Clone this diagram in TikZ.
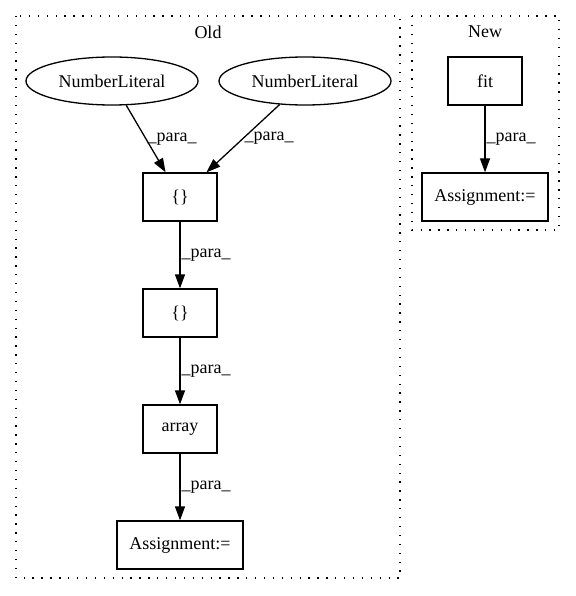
\documentclass[tikz,border=0pt]{standalone}
\usepackage{fontspec}
\setmainfont{Liberation Serif}
\usetikzlibrary{shapes.geometric,arrows.meta}

\tikzset{
  every node/.style={font=\fontsize{18}{22}\selectfont},
  literal/.style={ellipse, draw, minimum width=172pt, minimum height=48pt, inner sep=0pt},
  op/.style={rectangle, draw, minimum width=74pt, minimum height=48pt, inner sep=0pt},
  wide op/.style={op, minimum width=126pt},
  cluster/.style={draw, dash pattern=on 1.3pt off 7.6pt},
  para/.style={midway, right, inner sep=1pt}
}

\begin{document}
\begin{tikzpicture}[x=1pt, y=-1pt, line width=1.3pt, >={Triangle[length=14pt,width=10pt]}]
\useasboundingbox (0,0) rectangle (575,596);

% clusters
\draw [cluster] (16,16) rectangle (400,578);
\draw [cluster] (412,16) rectangle (559,230);
\node (old-title) at (208,32) {Old};
\node (new-title) at (485,32) {New};

% old
\foreach \m/\x in {1/112,2/305}
  \node [literal] (literal-\m) at (\x,81) {NumberLiteral};

\node [op] (braces-1) at (180,197) {\{\}};
\node [op] (braces-2) at (180,313) {\{\}};
\node [op] (array) at (180,429) {array};
\node [wide op] (old-assign) at (180,545) {Assignment:=};

% new
\node [op] (fit) at (485,81) {fit};
\node [wide op] (new-assign) at (485,197) {Assignment:=};

\foreach \i in {1,2}
  \draw [->] (literal-\i) -- (braces-1)
    node [para] {\_para\_};

\foreach \a/\b in {braces-1/braces-2, braces-2/array, array/old-assign}
  \draw [->] (\a) -- (\b)
    node [para] {\_para\_};

\draw [->] (fit) -- (new-assign)
    node [para] {\_para\_};
\end{tikzpicture}
\end{document}
